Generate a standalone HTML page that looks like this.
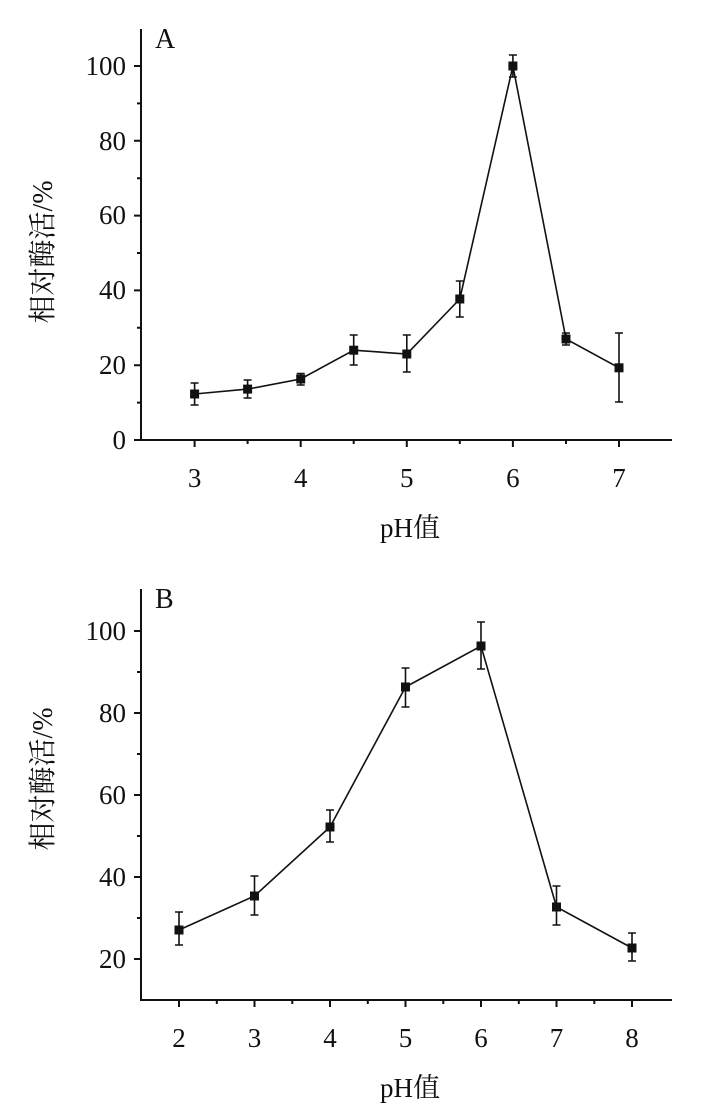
<!DOCTYPE html>
<html><head><meta charset="utf-8"><style>
html,body{margin:0;padding:0;background:#fff;}
svg text{font-family:"Liberation Serif","Noto Serif CJK SC",serif;fill:#111;}
</style></head><body>
<svg width="714" height="1112" viewBox="0 0 714 1112" xmlns="http://www.w3.org/2000/svg">
<g stroke="#111" stroke-width="2" fill="none">
<!-- Panel A axes -->
<path d="M141,29 V440 H672"/>
<!-- y ticks A: y(v)=440-3.74v -->
<path d="M134,440.0H141 M134,365.2H141 M134,290.4H141 M134,215.6H141 M134,140.8H141 M134,66H141"/>
<path d="M137,402.6H141 M137,327.8H141 M137,253H141 M137,178.2H141 M137,103.4H141"/>
<!-- x ticks A: x(p)=194.6+106.1(p-3) -->
<path d="M194.6,440v7 M300.7,440v7 M406.8,440v7 M512.9,440v7 M619,440v7"/>
<path d="M247.6,440v4 M353.7,440v4 M459.8,440v4 M566,440v4"/>
</g>
<text x="155" y="48" font-size="28">A</text>
<g font-size="27" text-anchor="end">
<text x="126" y="449">0</text><text x="126" y="374">20</text><text x="126" y="299">40</text>
<text x="126" y="224">60</text><text x="126" y="150">80</text><text x="126" y="75">100</text>
</g>
<g font-size="27" text-anchor="middle">
<text x="194.6" y="487">3</text><text x="300.7" y="487">4</text><text x="406.8" y="487">5</text>
<text x="512.9" y="487">6</text><text x="619" y="487">7</text>
</g>
<text x="410" y="537" font-size="27" text-anchor="middle">pH值</text>
<text transform="translate(52,252) rotate(-90)" font-size="28" text-anchor="middle">相对酶活/%</text>
<!-- A data -->
<g stroke="#111" stroke-width="1.6" fill="none">
<polyline points="194.6,394 247.6,389.1 300.7,379 353.7,350.2 406.8,354 459.8,299 512.9,66 566,339 619,367.8"/>
<path d="M194.6,383V405M190.6,383h8M190.6,405h8"/>
<path d="M247.6,380V398M243.6,380h8M243.6,398h8"/>
<path d="M300.7,373.5V385M296.7,373.5h8M296.7,385h8"/>
<path d="M353.7,335V365M349.7,335h8M349.7,365h8"/>
<path d="M406.8,335V372M402.8,335h8M402.8,372h8"/>
<path d="M459.8,281V317M455.8,281h8M455.8,317h8"/>
<path d="M512.9,55V77M508.9,55h8M508.9,77h8"/>
<path d="M566,333V345M562,333h8M562,345h8"/>
<path d="M619,333V402M615,333h8M615,402h8"/>
</g>
<g fill="#111">
<rect x="190.1" y="389.5" width="9" height="9"/><rect x="243.1" y="384.6" width="9" height="9"/>
<rect x="296.2" y="374.5" width="9" height="9"/><rect x="349.2" y="345.7" width="9" height="9"/>
<rect x="402.3" y="349.5" width="9" height="9"/><rect x="455.3" y="294.5" width="9" height="9"/>
<rect x="508.4" y="61.5" width="9" height="9"/><rect x="561.5" y="334.5" width="9" height="9"/>
<rect x="614.5" y="363.3" width="9" height="9"/>
</g>

<!-- Panel B: y(v)=1000-4.1(v-10); x(p)=179+75.5(p-2) -->
<g stroke="#111" stroke-width="2" fill="none">
<path d="M141,589 V1000 H672"/>
<path d="M134,959H141 M134,877H141 M134,795H141 M134,713H141 M134,631H141"/>
<path d="M137,918H141 M137,836H141 M137,754H141 M137,672H141"/>
<path d="M179,1000v7 M254.5,1000v7 M330,1000v7 M405.5,1000v7 M481,1000v7 M556.5,1000v7 M632,1000v7"/>
<path d="M216.8,1000v4 M292.3,1000v4 M367.8,1000v4 M443.3,1000v4 M518.8,1000v4 M594.3,1000v4"/>
</g>
<text x="155" y="608" font-size="28">B</text>
<g font-size="27" text-anchor="end">
<text x="126" y="968">20</text><text x="126" y="886">40</text><text x="126" y="804">60</text>
<text x="126" y="722">80</text><text x="126" y="640">100</text>
</g>
<g font-size="27" text-anchor="middle">
<text x="179" y="1047">2</text><text x="254.5" y="1047">3</text><text x="330" y="1047">4</text>
<text x="405.5" y="1047">5</text><text x="481" y="1047">6</text><text x="556.5" y="1047">7</text>
<text x="632" y="1047">8</text>
</g>
<text x="410" y="1097" font-size="27" text-anchor="middle">pH值</text>
<text transform="translate(52,779) rotate(-90)" font-size="28" text-anchor="middle">相对酶活/%</text>
<g stroke="#111" stroke-width="1.6" fill="none">
<polyline points="179,930 254.5,896 330,827 405.5,687 481,646 556.5,907 632,948"/>
<path d="M179,912V945M175,912h8M175,945h8"/>
<path d="M254.5,876V915M250.5,876h8M250.5,915h8"/>
<path d="M330,810V842M326,810h8M326,842h8"/>
<path d="M405.5,668V707M401.5,668h8M401.5,707h8"/>
<path d="M481,622V669M477,622h8M477,669h8"/>
<path d="M556.5,886V925M552.5,886h8M552.5,925h8"/>
<path d="M632,933V961M628,933h8M628,961h8"/>
</g>
<g fill="#111">
<rect x="174.5" y="925.5" width="9" height="9"/><rect x="250" y="891.5" width="9" height="9"/>
<rect x="325.5" y="822.5" width="9" height="9"/><rect x="401" y="682.5" width="9" height="9"/>
<rect x="476.5" y="641.5" width="9" height="9"/><rect x="552" y="902.5" width="9" height="9"/>
<rect x="627.5" y="943.5" width="9" height="9"/>
</g>
</svg>
</body></html>
